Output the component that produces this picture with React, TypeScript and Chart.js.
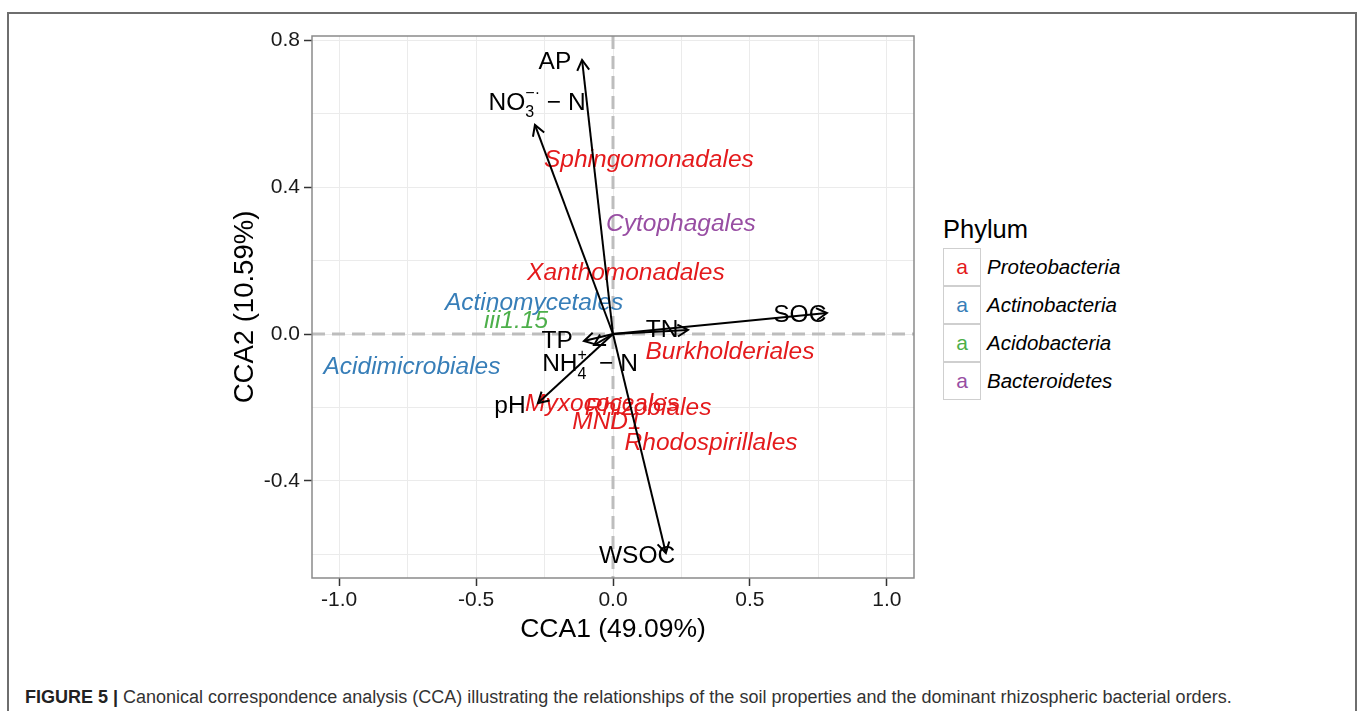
import React, { useEffect, useRef } from "react";
import { Chart, registerables } from "chart.js";

Chart.register(...registerables);

// Environmental variables (biplot arrows)
const envNames = ["AP", "NO_{3}^{−·} − N", "SOC", "TN", "TP", "NH_{4}^{+·} − N", "pH", "WSOC"];
const envX = [-0.113, -0.285, 0.781, 0.274, -0.106, -0.069, -0.274, 0.193];
const envY = [0.746, 0.569, 0.057, 0.011, -0.019, -0.03, -0.188, -0.596];
const envLabelX = [-0.212, -0.277, 0.682, 0.179, -0.204, -0.084, -0.376, 0.088];
const envLabelY = [0.74, 0.629, 0.052, 0.011, -0.019, -0.082, -0.196, -0.605];

// Bacterial orders
const taxaNames = [
  "Sphingomonadales",
  "Cytophagales",
  "Xanthomonadales",
  "Actinomycetales",
  "iii1.15",
  "Acidimicrobiales",
  "Burkholderiales",
  "Myxococcales",
  "Rhizobiales",
  "MND1",
  "Rhodospirillales",
];
const taxaX = [0.131, 0.248, 0.047, -0.288, -0.354, -0.734, 0.427, -0.04, 0.128, -0.022, 0.358];
const taxaY = [0.473, 0.299, 0.166, 0.084, 0.035, -0.09, -0.049, -0.19, -0.201, -0.239, -0.297];
const taxaPhylum = [0, 3, 0, 1, 2, 1, 0, 0, 0, 0, 0];

const phyla = ["Proteobacteria", "Actinobacteria", "Acidobacteria", "Bacteroidetes"];
const phylumColors = ["#E41A1C", "#377EB8", "#4DAF4A", "#984EA3"];

const xTitle = "CCA1 (49.09%)";
const yTitle = "CCA2 (10.59%)";
const xMin = -1.099;
const xMax = 1.099;
const yMin = -0.664;
const yMax = 0.811;

const FONT = '"Liberation Sans", Arial, Helvetica, sans-serif';

type Part = { t: string; kind: "base" | "sub" | "sup" };

function parseLabel(s: string): Part[] {
  const parts: Part[] = [];
  let i = 0;
  let buf = "";
  while (i < s.length) {
    if ((s[i] === "_" || s[i] === "^") && s[i + 1] === "{") {
      if (buf) {
        parts.push({ t: buf, kind: "base" });
        buf = "";
      }
      const end = s.indexOf("}", i);
      parts.push({ t: s.slice(i + 2, end), kind: s[i] === "_" ? "sub" : "sup" });
      i = end + 1;
    } else {
      buf += s[i];
      i++;
    }
  }
  if (buf) parts.push({ t: buf, kind: "base" });
  return parts;
}

function drawRich(ctx: CanvasRenderingContext2D, s: string, cx: number, cy: number) {
  const parts = parseLabel(s);
  const baseFont = `24.5px ${FONT}`;
  const smallFont = `16px ${FONT}`;
  const groups: { base?: string; sub?: string; sup?: string }[] = [];
  for (const p of parts) {
    if (p.kind === "base") groups.push({ base: p.t });
    else {
      const last = groups[groups.length - 1];
      if (last && last.base === undefined) {
        if (p.kind === "sub") last.sub = p.t;
        else last.sup = p.t;
      } else {
        groups.push(p.kind === "sub" ? { sub: p.t } : { sup: p.t });
      }
    }
  }
  const widths = groups.map((g) => {
    if (g.base !== undefined) {
      ctx.font = baseFont;
      return ctx.measureText(g.base).width;
    }
    ctx.font = smallFont;
    return Math.max(g.sub ? ctx.measureText(g.sub).width : 0, g.sup ? ctx.measureText(g.sup).width : 0);
  });
  const total = widths.reduce((a, b) => a + b, 0);
  let x = cx - total / 2;
  ctx.textAlign = "left";
  ctx.textBaseline = "middle";
  ctx.fillStyle = "#000";
  groups.forEach((g, k) => {
    if (g.base !== undefined) {
      ctx.font = baseFont;
      ctx.fillText(g.base, x, cy);
    } else {
      ctx.font = smallFont;
      if (g.sub) ctx.fillText(g.sub, x, cy + 10);
      if (g.sup) ctx.fillText(g.sup, x, cy - 9);
    }
    x += widths[k];
  });
}

const ccaPlugin = {
  id: "ccaPlugin",
  beforeDatasetsDraw(chart: any) {
    const { ctx, chartArea, scales } = chart;
    const xs = scales.x;
    const ys = scales.y;
    ctx.save();
    ctx.beginPath();
    ctx.rect(chartArea.left, chartArea.top, chartArea.right - chartArea.left, chartArea.bottom - chartArea.top);
    ctx.clip();
    ctx.strokeStyle = "#bdbdbd";
    ctx.lineWidth = 3;
    ctx.setLineDash([13, 7]);
    const x0 = xs.getPixelForValue(0);
    const y0 = ys.getPixelForValue(0);
    ctx.beginPath();
    ctx.moveTo(x0, chartArea.top);
    ctx.lineTo(x0, chartArea.bottom);
    ctx.stroke();
    ctx.beginPath();
    ctx.moveTo(chartArea.left, y0);
    ctx.lineTo(chartArea.right, y0);
    ctx.stroke();
    ctx.setLineDash([]);
    ctx.font = `italic 24.5px ${FONT}`;
    ctx.textAlign = "center";
    ctx.textBaseline = "middle";
    taxaNames.forEach((n, i) => {
      ctx.fillStyle = phylumColors[taxaPhylum[i]];
      ctx.fillText(n, xs.getPixelForValue(taxaX[i]), ys.getPixelForValue(taxaY[i]));
    });
    ctx.restore();
  },
  afterDatasetsDraw(chart: any) {
    const { ctx, chartArea, scales } = chart;
    const xs = scales.x;
    const ys = scales.y;
    ctx.save();
    ctx.strokeStyle = "#000";
    ctx.lineWidth = 2;
    const ox = xs.getPixelForValue(0);
    const oy = ys.getPixelForValue(0);
    envNames.forEach((_, i) => {
      const tx = xs.getPixelForValue(envX[i]);
      const ty = ys.getPixelForValue(envY[i]);
      const ang = Math.atan2(ty - oy, tx - ox);
      const L = 12;
      const a = Math.PI / 6;
      ctx.beginPath();
      ctx.moveTo(tx - L * Math.cos(ang - a), ty - L * Math.sin(ang - a));
      ctx.lineTo(tx, ty);
      ctx.lineTo(tx - L * Math.cos(ang + a), ty - L * Math.sin(ang + a));
      ctx.stroke();
    });
    envNames.forEach((n, i) => {
      drawRich(ctx, n, xs.getPixelForValue(envLabelX[i]), ys.getPixelForValue(envLabelY[i]));
    });
    ctx.strokeStyle = "#8a8a8a";
    ctx.lineWidth = 1.5;
    ctx.strokeRect(chartArea.left, chartArea.top, chartArea.right - chartArea.left, chartArea.bottom - chartArea.top);
    ctx.restore();
  },
};

const isMult = (v: number, step: number) => Math.abs(v / step - Math.round(v / step)) < 1e-6;
const fmt = (v: number) => (Math.abs(v) < 1e-9 ? 0 : v).toFixed(1);

export default function App() {
  const ref = useRef<HTMLCanvasElement>(null);

  useEffect(() => {
    if (!ref.current) return;
    const datasets: any[] = envNames.map((n, i) => ({
      label: n,
      data: [
        { x: 0, y: 0 },
        { x: envX[i], y: envY[i] },
      ],
      showLine: true,
      borderColor: "#000",
      borderWidth: 2,
      pointRadius: 0,
      fill: false,
    }));
    datasets.push({
      label: "taxa",
      data: taxaNames.map((_, i) => ({ x: taxaX[i], y: taxaY[i] })),
      pointRadius: 0,
      showLine: false,
    });
    const tickColor = (c: any) => (c.tick && c.tick.label !== "" ? "#333" : "rgba(0,0,0,0)");
    const chart = new Chart(ref.current, {
      type: "scatter",
      data: { datasets },
      plugins: [ccaPlugin],
      options: {
        animation: false,
        responsive: false,
        maintainAspectRatio: false,
        layout: { padding: { top: 36, right: 16, left: 0, bottom: 0 } },
        plugins: { legend: { display: false }, tooltip: { enabled: false } },
        scales: {
          x: {
            type: "linear",
            min: xMin,
            max: xMax,
            afterFit: (s: any) => {
              s.height = 67;
            },
            border: { display: false },
            grid: { color: "#ebebeb", lineWidth: 1, tickLength: 8, tickColor, tickWidth: 1.5 },
            ticks: {
              stepSize: 0.25,
              includeBounds: false,
              autoSkip: false,
              maxRotation: 0,
              padding: 2,
              color: "#1a1a1a",
              font: { family: FONT, size: 21 },
              callback: (v: any) => (isMult(Number(v), 0.5) ? fmt(Number(v)) : ""),
            },
            title: {
              display: true,
              text: xTitle,
              color: "#000",
              font: { family: FONT, size: 26.5 },
              padding: { top: 0, bottom: -1 },
            },
          },
          y: {
            type: "linear",
            min: yMin,
            max: yMax,
            afterFit: (s: any) => {
              s.width = 92;
            },
            border: { display: false },
            grid: { color: "#ebebeb", lineWidth: 1, tickLength: 8, tickColor, tickWidth: 1.5 },
            ticks: {
              stepSize: 0.2,
              includeBounds: false,
              autoSkip: false,
              padding: 4,
              color: "#1a1a1a",
              font: { family: FONT, size: 21 },
              callback: (v: any) => (isMult(Number(v), 0.4) ? fmt(Number(v)) : ""),
            },
            title: {
              display: true,
              text: yTitle,
              color: "#000",
              font: { family: FONT, size: 27.5 },
              padding: { top: 9, bottom: 0 },
            },
          },
        },
      } as any,
    });
    return () => chart.destroy();
  }, []);

  return (
    <div style={{ position: "absolute", left: 0, top: 0, width: 1358, height: 711, overflow: "hidden", background: "#fff" }}>
      <div
        style={{
          position: "absolute",
          left: 7,
          top: 12,
          width: 1346,
          height: 699,
          borderLeft: "2px solid #6e6e6e",
          borderTop: "2px solid #6e6e6e",
          borderRight: "2px solid #6e6e6e",
        }}
      />
      <canvas ref={ref} width={710} height={645} style={{ position: "absolute", left: 220, top: 0, width: 710, height: 645 }} />
      <div style={{ position: "absolute", left: 943, top: 213, fontFamily: FONT, fontSize: 25.5, lineHeight: "32px", color: "#000" }}>
        Phylum
      </div>
      {phyla.map((p, i) => (
        <React.Fragment key={p}>
          <div
            style={{
              position: "absolute",
              left: 943,
              top: 248 + i * 38,
              width: 36,
              height: 36,
              border: "1px solid #cfcfcf",
              display: "flex",
              alignItems: "center",
              justifyContent: "center",
              fontFamily: FONT,
              fontSize: 21,
              color: phylumColors[i],
              lineHeight: "36px",
            }}
          >
            a
          </div>
          <div
            style={{
              position: "absolute",
              left: 987,
              top: 248 + i * 38,
              height: 38,
              lineHeight: "38px",
              fontFamily: FONT,
              fontStyle: "italic",
              fontSize: 20.5,
              color: "#000",
              whiteSpace: "nowrap",
            }}
          >
            {p}
          </div>
        </React.Fragment>
      ))}
      <div
        style={{
          position: "absolute",
          left: 25,
          top: 686,
          fontFamily: FONT,
          fontSize: 18,
          lineHeight: "22px",
          color: "#333",
          whiteSpace: "nowrap",
        }}
      >
        <b style={{ color: "#222" }}>FIGURE 5 |</b> Canonical correspondence analysis (CCA) illustrating the relationships of the soil properties and the dominant rhizospheric bacterial orders.
      </div>
    </div>
  );
}
